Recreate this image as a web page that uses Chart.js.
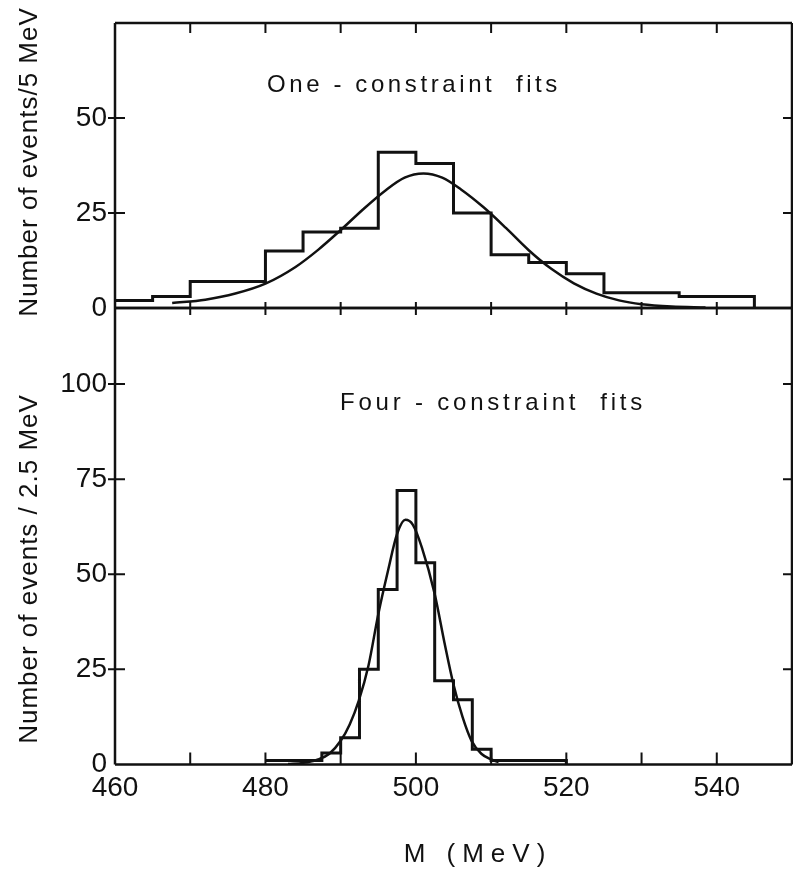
<!DOCTYPE html>
<html>
<head>
<meta charset="utf-8">
<script src="https://cdn.jsdelivr.net/npm/chart.js@4.4.1/dist/chart.umd.min.js"></script>
<style>
  html, body { margin: 0; padding: 0; background: #fff; }
  #wrap { position: relative; width: 793px; height: 876px; overflow: hidden; }
  canvas { position: absolute; left: 0; }
  #topChart { top: 0; }
  #bottomChart { top: 290px; }
</style>
</head>
<body>
<div id="wrap">
  <canvas id="topChart" width="793" height="340"></canvas>
  <canvas id="bottomChart" width="793" height="586"></canvas>
</div>
<script>
// One-constraint fits: 5 MeV bins (left edges), last entry closes the histogram
const oneEdges  = [460, 465, 470, 475, 480, 485, 490, 495, 500, 505, 510, 515, 520, 525, 530, 535, 540, 545];
const oneCounts = [2, 3, 7, 7, 15, 20, 21, 41, 38, 25, 14, 12, 9, 4, 4, 3, 3, 0];
// fitted curve
const oneFitM = [467.6, 472, 476, 480, 484, 487, 490, 493, 496, 498.5, 501, 503.5, 506, 509, 512, 515, 518, 521, 524, 527, 530, 534, 538.5];
const oneFitN = [1.3, 2.2, 3.8, 6.4, 10.8, 15.3, 20.5, 26, 31, 34.3, 35.4, 34.3, 31.2, 26.5, 21, 15.2, 10.3, 6.5, 3.8, 2.0, 1.0, 0.4, 0.15];

// Four-constraint fits: 2.5 MeV bins
const fourEdges  = [480, 482.5, 485, 487.5, 490, 492.5, 495, 497.5, 500, 502.5, 505, 507.5, 510, 512.5, 515, 517.5, 520];
const fourCounts = [1, 1, 1, 3, 7, 25, 46, 72, 53, 22, 17, 4, 1, 1, 1, 1, 0];
const fourFitM = [483, 485, 487, 488.5, 490, 491.2, 492.4, 493.7, 495, 496.3, 497.5, 498.6, 499.6, 500.8, 502.5, 503.8, 505, 506.2, 507.4, 508.7, 510, 511];
const fourFitN = [0.1, 0.4, 1.3, 2.8, 6.2, 10.5, 16.7, 26, 39.5, 51, 60.6, 64.3, 63, 57, 44.8, 32, 21, 12.5, 6.2, 2.8, 1.3, 0.6];

// axes
const xLabels = [460, 480, 500, 520, 540];
const xMinor = [470, 480, 490, 500, 510, 520, 530, 540];
const oneYTicks = [0, 25, 50];
const fourYTicks = [0, 25, 50, 75, 100];

const INK = '#111';
Chart.defaults.font.family = '"Liberation Sans Narrow", "Liberation Sans", sans-serif';
Chart.defaults.color = INK;

const tickFont = { size: 28 };

function pts(xs, ys) {
  return xs.map((v, i) => ({ x: v, y: ys[i] }));
}

// labels sit inside the axis range, so no extra room is needed at the ends
function noEndPadding(s) {
  s.paddingTop = 0;
  s.paddingBottom = 0;
  s.paddingLeft = 0;
  s.paddingRight = 0;
}

// frame, inward ticks and free text
const framePlugin = {
  id: 'frame',
  afterDatasetsDraw(chart, args, opts) {
    const { ctx, chartArea: a, scales: { x, y } } = chart;
    ctx.save();
    ctx.strokeStyle = INK;
    ctx.lineWidth = 2.5;
    ctx.beginPath();
    ctx.moveTo(a.left, a.top); ctx.lineTo(a.right, a.top);
    ctx.moveTo(a.left, a.top); ctx.lineTo(a.left, a.bottom);
    ctx.moveTo(a.left, a.bottom); ctx.lineTo(a.right, a.bottom);
    ctx.moveTo(a.right, a.top); ctx.lineTo(a.right, a.bottom);
    ctx.stroke();

    ctx.lineWidth = 2;
    ctx.beginPath();
    xMinor.forEach(v => {
      const px = x.getPixelForValue(v);
      if (opts.topTicks) { ctx.moveTo(px, a.top); ctx.lineTo(px, a.top + 10); }
      ctx.moveTo(px, a.bottom + opts.bottomTicks[0]);
      ctx.lineTo(px, a.bottom + opts.bottomTicks[1]);
    });
    y.ticks.forEach(t => {
      if (t.value === 0) return;
      const py = y.getPixelForValue(t.value);
      ctx.moveTo(a.left - 7, py); ctx.lineTo(a.left + 10, py);
      ctx.moveTo(a.right - 9, py); ctx.lineTo(a.right, py);
    });
    ctx.stroke();

    ctx.fillStyle = INK;
    (opts.texts || []).forEach(t => {
      ctx.save();
      ctx.font = t.font;
      ctx.letterSpacing = (t.spacing || 0) + 'px';
      ctx.textAlign = 'center';
      ctx.textBaseline = t.rotate ? 'alphabetic' : 'middle';
      ctx.translate(t.x, t.y);
      if (t.rotate) ctx.rotate(-Math.PI / 2);
      ctx.fillText(t.text, 0, 0);
      ctx.restore();
    });
    ctx.restore();
  }
};

function histSet(edges, counts) {
  return {
    data: pts(edges, counts),
    stepped: true,
    borderColor: INK,
    borderWidth: 3,
    pointRadius: 0,
    fill: false
  };
}

function fitSet(ms, ns) {
  return {
    data: pts(ms, ns),
    cubicInterpolationMode: 'monotone',
    borderColor: INK,
    borderWidth: 2.5,
    pointRadius: 0,
    fill: false
  };
}

function yScale(max, tickList) {
  return {
    min: 0,
    max: max,
    grid: { display: false, drawTicks: false },
    border: { display: false },
    ticks: { padding: 8, font: tickFont },
    afterBuildTicks: s => { s.ticks = tickList.map(v => ({ value: v })); },
    afterFit: s => { s.width = 115; noEndPadding(s); }
  };
}

const titleFont = '24px "Liberation Sans", Arial, sans-serif';
const axisFont = '26px "Liberation Sans", Arial, sans-serif';

new Chart(document.getElementById('topChart'), {
  type: 'line',
  data: { datasets: [histSet(oneEdges, oneCounts), fitSet(oneFitM, oneFitN)] },
  plugins: [framePlugin],
  options: {
    responsive: false,
    animation: false,
    devicePixelRatio: 1,
    layout: { padding: { top: 23, bottom: 32, left: 0, right: 1 } },
    plugins: {
      legend: { display: false },
      tooltip: { enabled: false },
      frame: {
        topTicks: true,
        bottomTicks: [-6, 7],
        texts: [
          { text: 'One - constraint  fits', x: 414, y: 85, font: titleFont, spacing: 3.6 },
          { text: 'Number of events/5 MeV', x: 37, y: 162, font: axisFont, spacing: 1, rotate: true }
        ]
      }
    },
    scales: {
      x: { type: 'linear', min: 460, max: 550, display: false },
      y: yScale(75, oneYTicks)
    }
  }
});

new Chart(document.getElementById('bottomChart'), {
  type: 'line',
  data: { datasets: [histSet(fourEdges, fourCounts), fitSet(fourFitM, fourFitN)] },
  plugins: [framePlugin],
  options: {
    responsive: false,
    animation: false,
    devicePixelRatio: 1,
    layout: { padding: { top: 18, bottom: 64, left: 0, right: 1 } },
    plugins: {
      legend: { display: false },
      tooltip: { enabled: false },
      frame: {
        topTicks: false,
        bottomTicks: [-12, 0],
        texts: [
          { text: 'Four - constraint  fits', x: 493, y: 113, font: titleFont, spacing: 3.8 },
          { text: 'Number of events / 2.5 MeV', x: 37, y: 279, font: axisFont, spacing: 1, rotate: true },
          { text: 'M (MeV)', x: 478, y: 565, font: axisFont, spacing: 7 }
        ]
      }
    },
    scales: {
      x: {
        type: 'linear',
        min: 460,
        max: 550,
        grid: { display: false, drawTicks: false },
        border: { display: false },
        ticks: { padding: 7, maxRotation: 0, autoSkip: false, font: tickFont },
        afterBuildTicks: s => { s.ticks = xLabels.map(v => ({ value: v })); },
        afterFit: noEndPadding
      },
      y: yScale(120, fourYTicks)
    }
  }
});
</script>
</body>
</html>
